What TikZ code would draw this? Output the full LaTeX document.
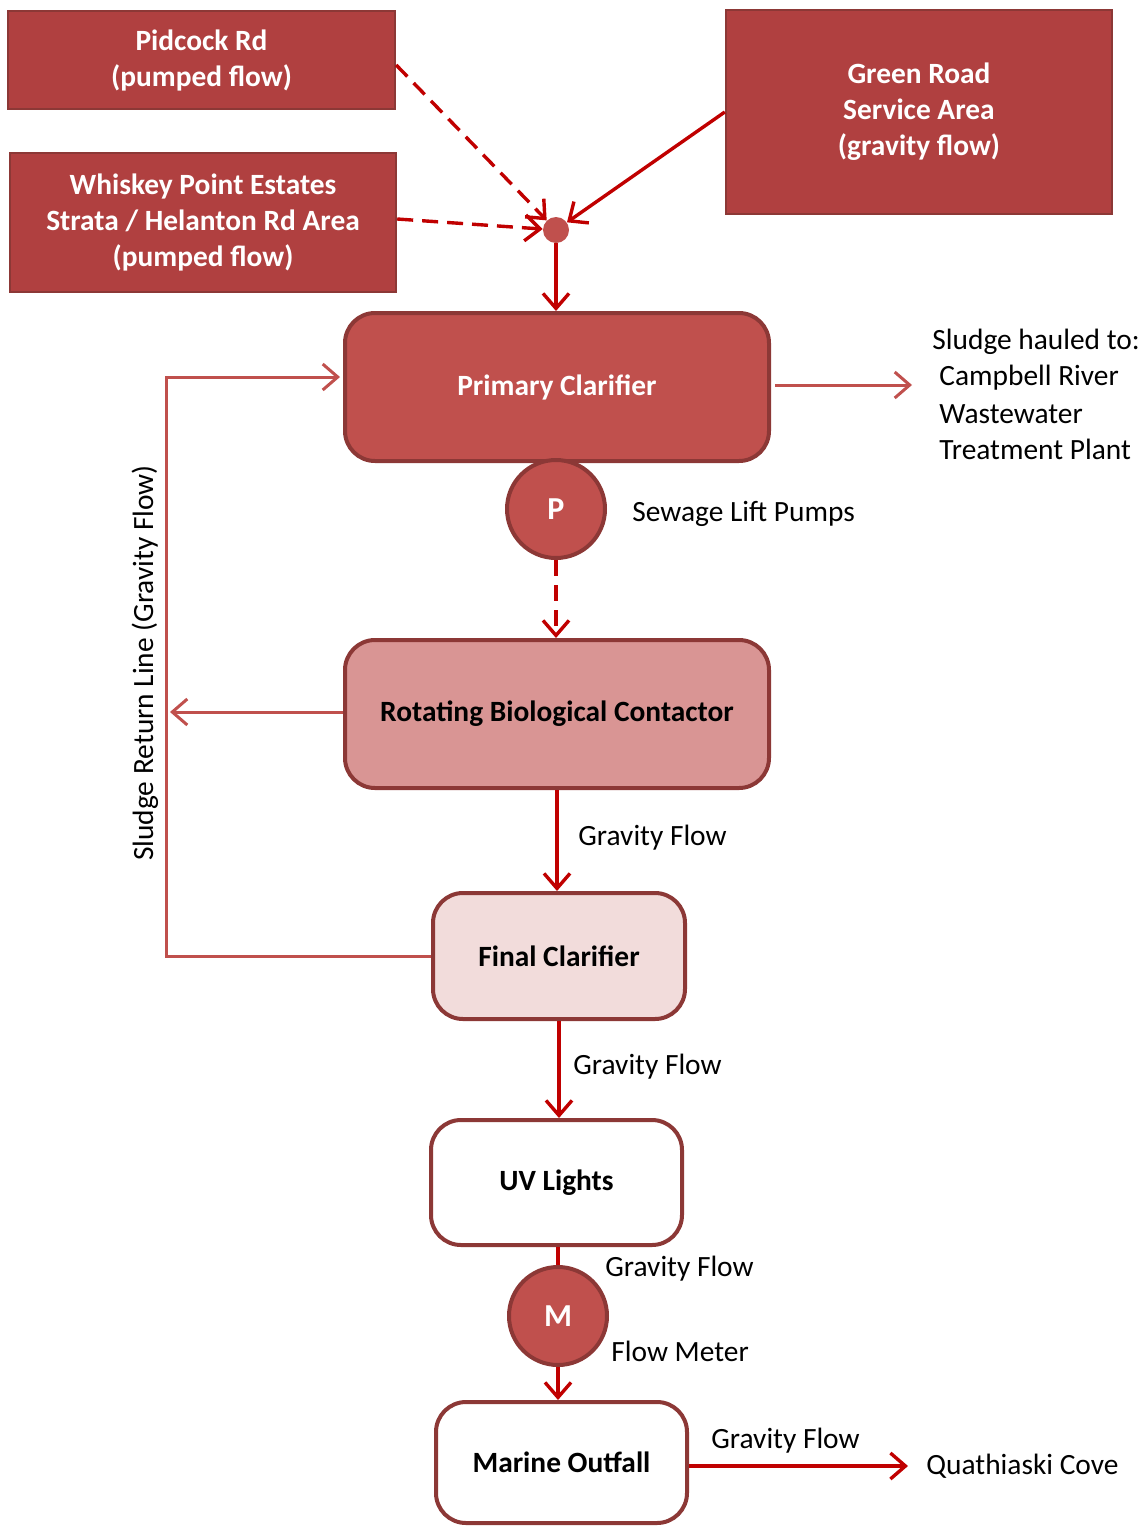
\documentclass[tikz,border=0pt]{standalone}
\usepackage{fontspec}
\setmainfont{Carlito}
\usetikzlibrary{arrows.meta,calc}
\definecolor{boxdark}{HTML}{B04040}
\definecolor{boxmid}{HTML}{C0504D}
\definecolor{boxline}{HTML}{8C3836}
\definecolor{boxpink}{HTML}{D99594}
\definecolor{boxlight}{HTML}{F2DCDB}
\definecolor{flow}{HTML}{C00000}
\tikzset{
  srcbox/.style={draw=boxline,line width=1.2pt,fill=boxdark,text=white,font=\bfseries\fontsize{14.7}{18}\selectfont,align=center,inner sep=0pt},
  procbox/.style={draw=boxline,line width=2pt,rounded corners=15pt,font=\bfseries\fontsize{14.7}{18}\selectfont,align=center,inner sep=0pt},
  roundnode/.style={circle,draw=boxline,line width=2pt,fill=boxmid,text=white,font=\bfseries\fontsize{16}{18}\selectfont,minimum size=49pt,inner sep=0pt},
  lbl/.style={font=\fontsize{14.7}{17}\selectfont,anchor=west,inner sep=0pt,align=left},
  barb/.tip={Straight Barb[length=7.5pt,width=13pt]},
  flowline/.style={draw=flow,line width=1.7pt,-barb},
  flowdash/.style={flowline,dash pattern=on 8pt off 4.5pt},
  retline/.style={draw=boxmid,line width=1.5pt},
}
\begin{document}
\begin{tikzpicture}[x=0.5pt,y=-0.5pt]
\useasboundingbox (0,0) rectangle (1146,1526);
% source boxes
\node[srcbox,minimum width=193.5pt,minimum height=49pt] (pid) at (201.5,60) {Pidcock Rd\\(pumped flow)};
\node[srcbox,minimum width=193pt,minimum height=69.5pt] (whi) at (203,222.5) {Whiskey Point Estates\\Strata / Helanton Rd Area\\(pumped flow)};
\node[srcbox,minimum width=193pt,minimum height=102pt] (grn) at (919,112) {Green Road\\Service Area\\(gravity flow)};
\node[circle,fill=boxmid,minimum size=13pt,inner sep=0pt] (dot) at (556,230) {};
% process boxes
\node[procbox,fill=boxmid,text=white,minimum width=212pt,minimum height=74pt] (pri) at (557,387) {Primary Clarifier};
\node[roundnode] (pump) at (556,509) {P};
\node[procbox,fill=boxpink,minimum width=212pt,minimum height=74pt] (rbc) at (557,714) {Rotating Biological Contactor};
\node[procbox,fill=boxlight,minimum width=126pt,minimum height=63pt] (fin) at (559,956) {Final Clarifier};
\node[procbox,fill=white,minimum width=125.5pt,minimum height=62.5pt] (uv) at (556.5,1182.5) {UV Lights};
\node[roundnode] (met) at (558,1316) {M};
\node[procbox,fill=white,minimum width=125.5pt,minimum height=60.5pt] (mar) at (561.5,1462.5) {Marine Outfall};
% labels
\node[lbl] (sludge) at (932,342) {Sludge hauled to:};
\node[lbl] (camp) at (939,378) {Campbell River};
\node[lbl] (ww) at (939,414) {Wastewater};
\node[lbl] (tp) at (939,449) {Treatment Plant};
\node[lbl] (slp) at (632,514) {Sewage Lift Pumps};
\node[lbl] (gf1) at (578,838) {Gravity Flow};
\node[lbl] (gf2) at (573,1067) {Gravity Flow};
\node[lbl] (gf3) at (605,1269) {Gravity Flow};
\node[lbl] (fm) at (611,1351) {Flow Meter};
\node[lbl] (gf4) at (711,1441) {Gravity Flow};
\node[lbl] (qc) at (926,1466) {Quathiaski Cove};
\node[font=\fontsize{14.7}{17}\selectfont,rotate=90,inner sep=0pt] (srl) at (145,663) {Sludge Return Line (Gravity Flow)};
% coordinates
\coordinate (sludgeend) at (912,385);
\coordinate (qcend) at (908,1466);
\coordinate (rltop) at (166,377);
\coordinate (rbcend) at (170,712);
\coordinate (prin) at (340,377);
% connectors
\draw[flowdash] (pid.east |- 0,65) -- (dot);
\draw[flowdash] (whi.east |- 0,219) -- (dot);
\draw[flowline] (grn.west) -- (dot);
\draw[flowline] (dot) -- (dot |- pri.north);
\draw[retline,-barb] (pri.east |- sludgeend) ++(4,0) -- (sludgeend);
\draw[flowdash] (pump.south) -- (pump.south |- rbc.north);
\draw[flowline] (rbc.south) -- (rbc.south |- fin.north);
\draw[flowline] (fin.south) -- (fin.south |- uv.north);
\draw[flow,line width=1.7pt] (met.north |- uv.south) -- (met.north);
\draw[flowline] (met.south) -- (met.south |- mar.north);
\draw[flowline] (mar.east |- qcend) -- (qcend);
\draw[retline,-barb] (fin.west) -| (rltop) -- (prin);
\draw[retline,-barb] (rbc.west |- rbcend) -- (rbcend);
\end{tikzpicture}
\end{document}
